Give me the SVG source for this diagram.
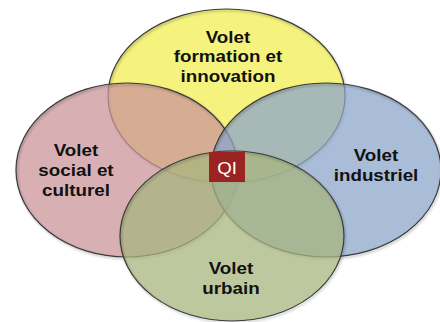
<svg xmlns="http://www.w3.org/2000/svg" width="440" height="322" viewBox="0 0 440 322">
<defs>
<filter id="sh" x="-10%" y="-10%" width="125%" height="125%">
<feDropShadow dx="1" dy="1.5" stdDeviation="1" flood-color="#000" flood-opacity="0.35"/>
</filter>
<style>
.f{stroke:none}
.s{fill:none;stroke:#3a3a3a;stroke-width:1.2;filter:url(#sh)}
.t{font-family:"Liberation Sans",Arial,sans-serif;font-weight:bold;font-size:16.5px;fill:#111;text-anchor:middle}
.q{font-family:"Liberation Sans",Arial,sans-serif;font-size:17px;fill:#fff;text-anchor:middle}
</style>
</defs>
<rect width="440" height="322" fill="#fff"/>
<g id="formation">
<ellipse class="f" cx="226.5" cy="96" rx="118.5" ry="87" fill="#f5f37d"/>
<ellipse class="s" cx="226.5" cy="96" rx="118.5" ry="87"/>
</g>
<g id="social">
<ellipse class="f" cx="127" cy="170" rx="111" ry="87" fill="#cb969b" fill-opacity="0.75"/>
<ellipse class="s" cx="127" cy="170" rx="111" ry="87"/>
</g>
<g id="industriel">
<ellipse class="f" cx="326" cy="170" rx="115" ry="87" fill="#8ca6cb" fill-opacity="0.75"/>
<ellipse class="s" cx="326" cy="170" rx="115" ry="87"/>
</g>
<g id="urbain">
<ellipse class="f" cx="232" cy="236" rx="112" ry="85" fill="#a7b57f" fill-opacity="0.75"/>
<ellipse class="s" cx="232" cy="236" rx="112" ry="85"/>
</g>
<g id="labels">
<text class="t" transform="translate(228 0) scale(1.14 1)"><tspan x="0" y="42.7">Volet</tspan><tspan x="0" y="62.5">formation et</tspan><tspan x="0" y="82.3">innovation</tspan></text>
<text class="t" transform="translate(76 0) scale(1.14 1)"><tspan x="0" y="156">Volet</tspan><tspan x="0" y="176">social et</tspan><tspan x="0" y="196">culturel</tspan></text>
<text class="t" transform="translate(376 0) scale(1.14 1)"><tspan x="0" y="161">Volet</tspan><tspan x="0" y="181">industriel</tspan></text>
<text class="t" transform="translate(231 0) scale(1.14 1)"><tspan x="0" y="274">Volet</tspan><tspan x="0" y="294">urbain</tspan></text>
</g>
<g id="qi">
<rect x="209" y="152" width="36" height="30" fill="#9b2423"/>
<text class="q" transform="translate(227 0) scale(1.1 1)" x="0" y="174">QI</text>
</g>
<g id="connectors"/>
</svg>
